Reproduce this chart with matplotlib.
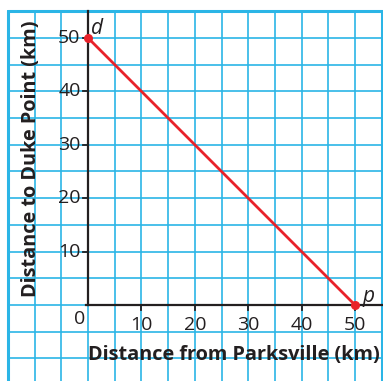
import numpy as np
import matplotlib.pyplot as plt

# line d = 50 - p
p_vals = [0, 50]
d_vals = [50, 0]
x_ticks = [10, 20, 30, 40, 50]
y_ticks = [10, 20, 30, 40, 50]
x_label = 'Distance from Parksville (km)'
y_label = 'Distance to Duke Point (km)'

plt.rcParams['font.family'] = ['Open Sans', 'DejaVu Sans']

fig = plt.figure(figsize=(3.83, 3.81), dpi=100)
ax = fig.add_axes([0, 0, 1, 1])
ax.set_xlim(-16.48, 55.24)
ax.set_ylim(-14.23, 57.1)
ax.axis('off')

grid_c = '#2bb5e6'
for g in np.arange(-15, 55.1, 5):
    ax.plot([g, g], [-15, 55], color=grid_c, lw=1.2, zorder=1)
for g in np.arange(-15, 55.1, 5):
    ax.plot([-15, 55], [g, g], color=grid_c, lw=1.2, zorder=1)
# frame
ax.plot([-15, -15, 55, 55], [-15, 55, 55, -15], color=grid_c, lw=2.2, zorder=1)

# axes
ax.plot([0, 0], [0, 55], color='#231f20', lw=1.6, zorder=3)
ax.plot([-0.4, 55], [0, 0], color='#231f20', lw=1.6, zorder=3)
for t in x_ticks:
    ax.plot([t, t], [0, -1.0], color='#231f20', lw=1.3, zorder=3)
    ax.text(t, -2.1, str(t), ha='center', va='top', fontsize=14, color='#231f20')
for t in y_ticks:
    ax.plot([0, -1.0], [t, t], color='#231f20', lw=1.3, zorder=3)
    ax.text(-1.4, t, str(t), ha='right', va='center', fontsize=14, color='#231f20')
ax.text(-0.6, -1.0, '0', ha='right', va='top', fontsize=14, color='#231f20')

ax.text(27.3, -9.4, x_label, ha='center', va='center', fontsize=14.3,
        fontweight='bold', color='#231f20')
ax.text(-10.6, 27.4, y_label, ha='center', va='center', fontsize=14.3,
        fontweight='bold', color='#231f20', rotation=90)

ax.plot(p_vals, d_vals, color='#e8222a', lw=2, zorder=4)
ax.scatter(p_vals, d_vals, color='#e8222a', s=30, zorder=5)
ax.text(0.5, 50.8, 'd', fontsize=15, style='italic', color='#231f20')
ax.text(51.4, 0.6, 'p', fontsize=15, style='italic', color='#231f20')

fig.savefig('out.png', dpi=100, facecolor='white')
